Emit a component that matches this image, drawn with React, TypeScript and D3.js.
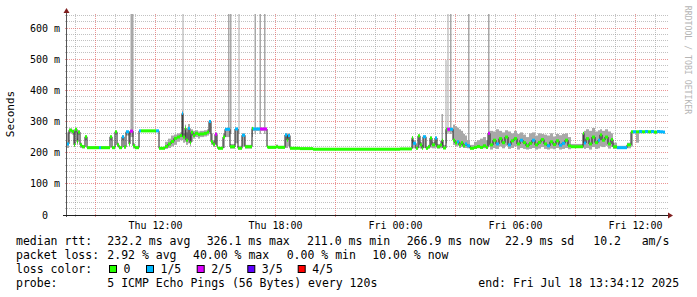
import React from "react";
import * as d3 from "d3";

// ---------- DATA ----------
const WINDOW_START = new Date(2025, 6, 17, 7, 34, 12);
const WINDOW_END = new Date(2025, 6, 18, 13, 34, 12);
const DATA_END_MINUTES = 1794;

// step samples: minutes after window start
const sampleMinutes = [
  0, 6, 15, 21, 24, 30, 33, 39, 45, 54, 60, 96, 102, 129, 135, 144, 150, 156, 165, 171,
  177, 186, 189, 198, 204, 216, 222, 267, 276, 294, 303, 312, 321, 330, 339, 345, 348, 354, 357, 363,
  369, 372, 378, 384, 393, 399, 411, 420, 426, 432, 438, 444, 450, 453, 468, 474, 489, 504, 513, 525,
  534, 555, 558, 579, 600, 603, 627, 633, 654, 660, 663, 669, 699, 738, 999, 1035, 1038, 1047, 1053, 1059,
  1065, 1068, 1077, 1083, 1089, 1095, 1104, 1110, 1119, 1125, 1128, 1137, 1140, 1149, 1158, 1164, 1170, 1176, 1182, 1188,
  1194, 1200, 1209, 1221, 1230, 1239, 1248, 1257, 1263, 1269, 1278, 1287, 1296, 1305, 1314, 1323, 1332, 1341, 1350, 1359,
  1368, 1377, 1386, 1395, 1404, 1413, 1422, 1431, 1440, 1449, 1458, 1467, 1476, 1485, 1494, 1503, 1512, 1548, 1551, 1557,
  1566, 1575, 1584, 1593, 1599, 1605, 1614, 1623, 1632, 1638, 1650, 1680, 1692, 1698, 1707, 1716, 1725, 1734, 1743, 1752,
  1761, 1770, 1779, 1788,
];
const medianMs = [
  228, 272, 268, 225, 275, 235, 266, 225, 219, 251, 216, 216, 216, 251, 216, 267, 225, 216, 251, 218,
  267, 228, 269, 222, 216, 270, 270, 270, 214, 220, 228, 236, 246, 250, 255, 326, 250, 279, 240, 278,
  232, 265, 255, 262, 258, 260, 262, 266, 300, 235, 227, 259, 219, 214, 250, 275, 219, 276, 214, 256,
  219, 278, 276, 276, 219, 217, 219, 217, 257, 240, 255, 214, 213, 211, 212, 248, 230, 214, 254, 225,
  214, 251, 214, 219, 247, 225, 247, 219, 225, 240, 215, 275, 275, 275, 240, 231, 235, 225, 232, 222,
  228, 222, 214, 217, 220, 217, 222, 217, 262, 225, 240, 228, 245, 232, 250, 225, 238, 245, 228, 240,
  232, 222, 230, 240, 225, 233, 242, 228, 222, 235, 226, 238, 224, 230, 240, 222, 219, 262, 231, 245,
  228, 250, 232, 240, 257, 240, 250, 228, 242, 219, 216, 225, 267, 267, 267, 268, 267, 268, 267, 268,
  266, 268, 267, 266,
];
const lossCount = [
  1, 0, 0, 0, 0, 0, 0, 0, 0, 0, 0, 1, 0, 0, 0, 0, 0, 0, 1, 0,
  1, 0, 2, 0, 0, 1, 0, 1, 0, 0, 0, 0, 0, 0, 0, 1, 0, 0, 0, 1,
  0, 0, 0, 0, 0, 0, 0, 0, 1, 0, 0, 2, 0, 0, 0, 1, 0, 1, 0, 1,
  0, 0, 1, 2, 0, 0, 0, 0, 1, 0, 1, 0, 0, 0, 0, 0, 1, 0, 0, 0,
  0, 1, 0, 0, 0, 0, 1, 0, 0, 0, 0, 0, 2, 1, 0, 0, 1, 0, 0, 0,
  1, 1, 0, 0, 0, 0, 0, 0, 2, 0, 0, 1, 0, 0, 0, 1, 0, 0, 0, 1,
  0, 0, 0, 1, 0, 0, 0, 0, 1, 0, 0, 0, 1, 1, 0, 0, 0, 0, 1, 0,
  0, 0, 0, 1, 0, 0, 0, 0, 0, 0, 1, 0, 0, 1, 0, 1, 0, 1, 0, 1,
  0, 1, 1, 1,
];
const smokeLowMs = [
  215, 262, 258, 218, 265, 225, 258, 215, 214, 240, 213, 213, 213, 240, 213, 258, 218, 213, 240, 213,
  255, 220, 258, 213, 213, 266, 266, 266, 212, 212, 215, 220, 225, 235, 240, 240, 232, 235, 225, 230,
  220, 235, 245, 250, 245, 250, 252, 255, 260, 225, 218, 225, 213, 212, 215, 250, 213, 230, 212, 220,
  213, 250, 270, 270, 214, 214, 214, 214, 215, 215, 220, 212, 211, 210, 210, 215, 214, 212, 215, 213,
  212, 215, 212, 213, 216, 214, 216, 213, 214, 216, 212, 230, 265, 265, 225, 220, 222, 215, 218, 215,
  215, 214, 212, 212, 214, 212, 214, 212, 220, 210, 215, 212, 220, 214, 222, 212, 215, 220, 210, 215,
  212, 210, 212, 215, 210, 213, 218, 212, 210, 213, 211, 215, 210, 212, 215, 211, 215, 215, 212, 215,
  210, 218, 212, 214, 220, 218, 222, 213, 218, 212, 212, 214, 220, 262, 232, 262, 263, 263, 263, 263,
  262, 263, 263, 262,
];
const smokeHighMs = [
  265, 278, 274, 232, 280, 245, 272, 232, 224, 255, 220, 220, 220, 255, 220, 270, 232, 220, 256, 222,
  270, 236, 272, 230, 222, 273, 273, 273, 218, 235, 245, 255, 258, 262, 265, 335, 262, 290, 265, 292,
  255, 275, 270, 272, 268, 270, 272, 275, 305, 262, 240, 265, 225, 218, 262, 278, 228, 280, 222, 262,
  225, 282, 280, 280, 225, 222, 226, 222, 262, 260, 262, 218, 215, 213, 214, 252, 240, 218, 258, 235,
  218, 255, 220, 225, 252, 235, 252, 228, 238, 324, 225, 280, 280, 280, 290, 285, 280, 275, 270, 260,
  255, 240, 225, 235, 240, 245, 250, 240, 270, 270, 268, 275, 270, 265, 272, 268, 262, 270, 260, 265,
  258, 250, 262, 265, 255, 262, 260, 258, 255, 262, 252, 260, 256, 260, 262, 250, 228, 265, 270, 275,
  270, 279, 268, 272, 275, 270, 275, 268, 262, 232, 222, 232, 270, 271, 270, 271, 270, 271, 270, 271,
  270, 271, 270, 270,
];

// single-ping outliers (tall smoke spikes)
const spikeStartMin = [190.5, 346.5, 483, 489, 514.5, 562.5, 577.5, 591, 1123.5, 1135.5, 1141.5, 1149, 1203, 1263];
const spikeEndMin = [199.5, 349.5, 487.5, 493.5, 517.5, 567, 582, 595.5, 1126.5, 1138.5, 1144.5, 1153.5, 1207.5, 1267.5];
const spikeLowMs = [250, 260, 260, 260, 260, 260, 260, 260, 240, 260, 260, 260, 230, 250];
const spikeHighMs = [900, 900, 900, 900, 900, 900, 900, 900, 324, 497, 900, 900, 900, 900];

const yTickValues = [0, 100, 200, 300, 400, 500, 600];
const yTickLabels = ["0", "100 m", "200 m", "300 m", "400 m", "500 m", "600 m"];

const lossLabels = ["0", "1/5", "2/5", "3/5", "4/5"];
const lossColors = ["#26ff00", "#00b8ff", "#dd00ff", "#5e00ff", "#ff0000"];

const rttTitle = "median rtt:";
const rttParts = ["232.2 ms avg", "326.1 ms max", "211.0 ms min", "266.9 ms now", "22.9 ms sd", "10.2", "am/s"];
const lossTitle = "packet loss:";
const lossParts = ["2.92 % avg", "40.00 % max", "0.00 % min", "10.00 % now"];
const colorTitle = "loss color:";
const probeTitle = "probe:";
const probeText = "5 ICMP Echo Pings (56 Bytes) every 120s";
const endText = "end: Fri Jul 18 13:34:12 2025";
const yAxisTitle = "Seconds";
const watermark = "RRDTOOL / TOBI OETIKER";

// ---------- LAYOUT ----------
const rttX = [107.3, 206.7, 307, 406.7, 505, 593.3, 641.7];
const lossX = [107.3, 193, 286.7, 372.3];
const boxX = [109, 146, 196.7, 247.3, 297.7];
const FONT = "'DejaVu Sans Mono', monospace";

export default function App() {
  const left = 67, right = 667, bottom = 215, plotTop = 14;
  const x = d3.scaleTime().domain([WINDOW_START, WINDOW_END]).range([left, right]);
  const y = d3.scaleLinear().domain([0, 600]).range([bottom, 28]);
  const toDate = (m: number) => new Date(WINDOW_START.getTime() + m * 60000);
  const yc = (v: number) => Math.max(plotTop, y(v));

  const samples = sampleMinutes.map((m, i) => ({
    t0: toDate(m),
    t1: toDate(i + 1 < sampleMinutes.length ? sampleMinutes[i + 1] : DATA_END_MINUTES),
    med: medianMs[i],
    loss: lossCount[i],
    lo: smokeLowMs[i],
    hi: smokeHighMs[i],
  }));

  const linePts = samples.map((s) => ({ t: s.t0, v: s.med }));
  linePts.push({ t: toDate(DATA_END_MINUTES), v: medianMs[medianMs.length - 1] });
  const medianPath = d3
    .line<{ t: Date; v: number }>()
    .x((d) => x(d.t))
    .y((d) => y(d.v))
    .curve(d3.curveStepAfter)(linePts) as string;

  const hours = d3.timeHour.range(d3.timeHour.ceil(WINDOW_START), WINDOW_END);
  const minorY = d3.range(20, 641, 20).filter((v) => v % 100 !== 0);
  const fmt = d3.timeFormat("%a %H:%M");

  const px = (v: number) => Math.floor(v) + 0.5;

  return (
    <svg
      width={697}
      height={297}
      style={{ position: "absolute", left: 0, top: 0, background: "#fff" }}
      fontFamily={FONT}
    >
      <rect x={0} y={0} width={697} height={297} fill="#fff" />
      {/* minor grid */}
      <g stroke="rgba(143,143,143,0.55)" strokeDasharray="1,1" strokeWidth={1}>
        {hours
          .filter((h) => h.getHours() % 3 !== 0)
          .map((h, i) => (
            <line key={"mv" + i} x1={px(x(h))} x2={px(x(h))} y1={plotTop} y2={bottom + 2} />
          ))}
        {minorY
          .filter((v) => y(v) >= plotTop)
          .map((v, i) => (
            <line key={"mh" + i} x1={left - 2} x2={right + 2} y1={px(y(v))} y2={px(y(v))} />
          ))}
      </g>
      {/* major grid */}
      <g stroke="rgba(222,79,79,0.6)" strokeDasharray="1,1" strokeWidth={1}>
        {hours
          .filter((h) => h.getHours() % 3 === 0)
          .map((h, i) => (
            <line key={"Mv" + i} x1={px(x(h))} x2={px(x(h))} y1={plotTop} y2={bottom + 2} />
          ))}
        {yTickValues
          .filter((v) => v > 0)
          .map((v, i) => (
            <line key={"Mh" + i} x1={left - 2} x2={right + 2} y1={px(y(v))} y2={px(y(v))} />
          ))}
      </g>

      {/* smoke */}
      <g fill="#a8a8a8">
        {samples.map((s, i) => (
          <rect
            key={"s" + i}
            x={x(s.t0)}
            width={Math.max(0, x(s.t1) - x(s.t0))}
            y={yc(s.hi)}
            height={Math.max(0, y(s.lo) - yc(s.hi))}
          />
        ))}
        {spikeStartMin.map((m, i) => (
          <rect
            key={"sp" + i}
            x={x(toDate(m))}
            width={x(toDate(spikeEndMin[i])) - x(toDate(m))}
            y={yc(spikeHighMs[i])}
            height={y(spikeLowMs[i]) - yc(spikeHighMs[i])}
          />
        ))}
      </g>

      {/* median line */}
      <path d={medianPath} fill="none" stroke="#202020" strokeWidth={1} />
      {/* loss coloured median */}
      {samples.map((s, i) => (
        <rect
          key={"m" + i}
          x={x(s.t0)}
          width={Math.max(0, x(s.t1) - x(s.t0))}
          y={y(s.med) - 1.5}
          height={3}
          fill={lossColors[s.loss]}
        />
      ))}

      {/* axes */}
      <line x1={left - 0.5} x2={left - 0.5} y1={11} y2={bottom + 2} stroke="#555" strokeWidth={1} />
      <line x1={left - 4} x2={right + 2} y1={bottom + 0.5} y2={bottom + 0.5} stroke="#1f1f1f" strokeWidth={1} />
      <path d={`M${left - 0.5},8 L${left - 3.5},13 L${left + 2.5},13 Z`} fill="#801f1f" />
      <path d={`M${right + 6},${bottom + 0.5} L${right + 1},${bottom - 2.5} L${right + 1},${bottom + 3.5} Z`} fill="#801f1f" />

      {/* y tick labels */}
      <g fontSize={10} fill="#000" textAnchor="end">
        {yTickValues.map((v, i) => (
          <text key={"yl" + i} x={v === 0 ? 48 : 60} y={y(v) + 3.5}>
            {yTickLabels[i]}
          </text>
        ))}
      </g>
      {/* x tick labels */}
      <g fontSize={10} fill="#000" textAnchor="middle">
        {hours
          .filter((h) => h.getHours() % 6 === 0)
          .map((h, i) => (
            <text key={"xl" + i} x={px(x(h))} y={228.5}>
              {fmt(h)}
            </text>
          ))}
      </g>

      {/* axis title */}
      <text transform="translate(14,114) rotate(-90)" textAnchor="middle" fontSize={11} fill="#000">
        {yAxisTitle}
      </text>
      {/* watermark */}
      <text
        transform="translate(685,60) rotate(90)"
        textAnchor="middle"
        fontSize={8.2}
        fill="#b5b5b5"
      >
        {watermark}
      </text>

      {/* legend */}
      <g fontSize={11.5} fill="#000">
        <text x={16} y={245}>{rttTitle}</text>
        {rttParts.map((t, i) => (
          <text key={"r" + i} x={rttX[i]} y={245}>{t}</text>
        ))}
        <text x={16} y={259}>{lossTitle}</text>
        {lossParts.map((t, i) => (
          <text key={"l" + i} x={lossX[i]} y={259}>{t}</text>
        ))}
        <text x={16} y={273}>{colorTitle}</text>
        {lossLabels.map((t, i) => (
          <g key={"c" + i}>
            <rect x={boxX[i] + 0.5} y={265.5} width={7} height={7} fill={lossColors[i]} stroke="#000" strokeWidth={1} />
            <text x={boxX[i] + 14.5}  y={273}>{t}</text>
          </g>
        ))}
        <text x={16} y={287}>{probeTitle}</text>
        <text x={107.3} y={287}>{probeText}</text>
        <text x={478.3} y={287}>{endText}</text>
      </g>
    </svg>
  );
}
